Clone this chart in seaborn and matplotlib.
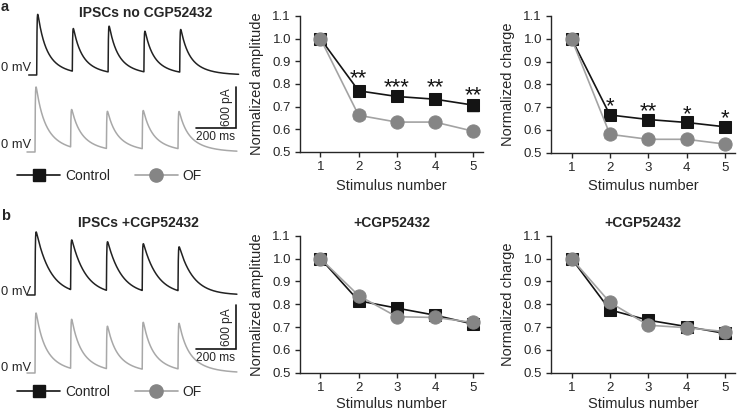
import numpy as np
import pandas as pd
import matplotlib
matplotlib.use("Agg")
import matplotlib.pyplot as plt
from matplotlib.lines import Line2D
import seaborn as sns

# ---------------- data ----------------
stimulus = [1, 2, 3, 4, 5]
conditions = ["Control", "OF"]

amp_a_ctrl = [1.0, 0.770, 0.745, 0.733, 0.707]
amp_a_ctrl_err = [0.0, 0.022, 0.014, 0.020, 0.024]
amp_a_of = [1.0, 0.662, 0.632, 0.632, 0.592]
amp_a_of_err = [0.0, 0.018, 0.014, 0.014, 0.013]

chg_a_ctrl = [1.0, 0.665, 0.645, 0.632, 0.613]
chg_a_ctrl_err = [0.0, 0.018, 0.012, 0.018, 0.014]
chg_a_of = [1.0, 0.580, 0.558, 0.558, 0.537]
chg_a_of_err = [0.0, 0.016, 0.014, 0.014, 0.014]

amp_b_ctrl = [1.0, 0.815, 0.783, 0.752, 0.713]
amp_b_ctrl_err = [0.0, 0.010, 0.012, 0.012, 0.012]
amp_b_of = [1.0, 0.838, 0.745, 0.742, 0.720]
amp_b_of_err = [0.0, 0.012, 0.012, 0.012, 0.012]

chg_b_ctrl = [1.0, 0.775, 0.730, 0.702, 0.672]
chg_b_ctrl_err = [0.0, 0.010, 0.012, 0.012, 0.012]
chg_b_of = [1.0, 0.808, 0.708, 0.697, 0.680]
chg_b_of_err = [0.0, 0.012, 0.012, 0.012, 0.012]

stars_amp_a = ["**", "***", "**", "**"]
stars_amp_a_y = [0.856, 0.816, 0.816, 0.780]
stars_chg_a = ["*", "**", "*", "*"]
stars_chg_a_y = [0.735, 0.713, 0.700, 0.680]
star_x = [2, 3, 4, 5]

yticks = [0.5, 0.6, 0.7, 0.8, 0.9, 1.0, 1.1]

# example IPSC trains: stimulus times (ms) and response amplitudes (pA)
stim_times_ms = [0, 178, 357, 536, 715]
ipsc_a_ctrl_pA = [886, 625, 670, 595, 625]
ipsc_a_of_pA = [949, 550, 545, 560, 545]
ipsc_b_ctrl_pA = [857, 680, 665, 640, 600]
ipsc_b_of_pA = [816, 670, 580, 640, 623]

# ---------------- style ----------------
sns.set_style("ticks")
plt.rcParams["font.family"] = ["Liberation Sans", "DejaVu Sans"]
plt.rcParams["axes.linewidth"] = 1.0

W, H = 745, 412
fig = plt.figure(figsize=(W / 100, H / 100), dpi=100)


def rect(x0, y0, x1, y1):
    return [x0 / W, 1 - y1 / H, (x1 - x0) / W, (y1 - y0) / H]


BLACK = "#141414"
OF_LINE = "#a3a3a3"
OF_MARK = "#858585"
TRACE_GRAY = "#a8a8a8"


def ipsc_trace(amps, rise, w_fast, tau_fast, tau_slow):
    t = np.arange(-40, 1010, 0.5)
    y = np.zeros_like(t)
    fine = np.arange(0, 50, 0.05)
    kmax = np.max((1 - np.exp(-fine / rise)) * (w_fast * np.exp(-fine / tau_fast) + (1 - w_fast) * np.exp(-fine / tau_slow)))
    for ts, a in zip(stim_times_ms, amps):
        tt = np.clip(t - ts, 0, None)
        k = (1 - np.exp(-tt / rise)) * (w_fast * np.exp(-tt / tau_fast) + (1 - w_fast) * np.exp(-tt / tau_slow))
        k[t < ts] = 0
        y += a * k / kmax
    return t, y


def trace_axes(y_top, y_bot, stim_px, base_px, pA_per_px, ms_per_px=5.0):
    ax = fig.add_axes(rect(0, y_top, 250, y_bot))
    ax.set_xlim((0 - stim_px) * ms_per_px, (250 - stim_px) * ms_per_px)
    ax.set_ylim((base_px - y_bot) * pA_per_px, (base_px - y_top) * pA_per_px)
    ax.axis("off")
    ax.patch.set_alpha(0)
    return ax


def draw_trace(ax, amps, color, params):
    t, y = ipsc_trace(amps, *params)
    sns.lineplot(x=t, y=y, ax=ax, color=color, lw=1.1, estimator=None, errorbar=None, sort=False)


def scale_bar(ax, corner_ms, corner_pA):
    ax.plot([corner_ms - 200, corner_ms, corner_ms], [corner_pA, corner_pA, corner_pA + 600],
            color=BLACK, lw=1.2, solid_joinstyle="miter")


params_fast = (1.5, 0.5, 30, 80)
params_of = (1.5, 0.45, 30, 85)
params_slow = (1.5, 1.0, 70, 70)

# panel a traces
ax_t = trace_axes(0, 100, 36.7, 75, 14.6)
draw_trace(ax_t, ipsc_a_ctrl_pA, "#222222", params_fast)
ax_t = trace_axes(78, 160, 35, 152, 14.6)
draw_trace(ax_t, ipsc_a_of_pA, TRACE_GRAY, params_of)
scale_bar(ax_t, (236 - 35) * 5, (152 - 128) * 14.6)

# panel b traces
ax_t = trace_axes(225, 300, 35, 295, 13.6)
draw_trace(ax_t, ipsc_b_ctrl_pA, "#222222", params_slow)
ax_t = trace_axes(300, 380, 35, 373, 13.6)
draw_trace(ax_t, ipsc_b_of_pA, TRACE_GRAY, params_of)
scale_bar(ax_t, (236 - 35) * 5, (373 - 349) * 13.6)


def ftext(px, py, s, **kw):
    fig.text(px / W, 1 - py / H, s, **kw)


ftext(1, 11, "a", fontsize=10.5, fontweight="bold", va="baseline")
ftext(1, 220, "b", fontsize=10.5, fontweight="bold", va="baseline")
ftext(146, 13, "IPSCs no CGP52432", fontsize=10, fontweight="bold", ha="center", va="center")
ftext(138, 223, "IPSCs +CGP52432", fontsize=10, fontweight="bold", ha="center", va="center")
for y in (68, 145, 292, 368):
    ftext(1, y, "0 mV", fontsize=9.3, ha="left", va="center")
for yb, yp in ((137, 107), (358, 327)):
    ftext(216, yb, "200 ms", fontsize=8.6, ha="center", va="center")
    ftext(227, yp, "600 pA", fontsize=8.6, ha="center", va="center", rotation=90)

# legends
handles = [Line2D([], [], color=BLACK, lw=1.2, marker="s", markersize=8.5, markeredgecolor=BLACK),
           Line2D([], [], color=OF_LINE, lw=1.2, marker="o", markersize=9.5,
                  markerfacecolor=OF_MARK, markeredgecolor=OF_MARK)]
for yl in (176, 392):
    fig.legend(handles, conditions, loc="center left", bbox_to_anchor=(17 / W, 1 - yl / H),
               ncol=2, frameon=False, handlelength=3.1, handletextpad=0.35, columnspacing=1.8,
               borderpad=0, borderaxespad=0, fontsize=10, numpoints=1)


def line_panel(box, ctrl, ctrl_err, of, of_err, ylabel, title=None, stars=None, stars_y=None, xpad=4):
    ax = fig.add_axes(rect(*box))
    df = pd.DataFrame({"Stimulus number": stimulus * 2,
                       "value": ctrl + of,
                       "err": ctrl_err + of_err,
                       "cond": ["Control"] * 5 + ["OF"] * 5})
    c = df[df.cond == "Control"]
    o = df[df.cond == "OF"]
    ax.errorbar(c["Stimulus number"], c["value"], yerr=c["err"], fmt="none", ecolor=BLACK,
                elinewidth=1.0, capsize=4, capthick=1.0, zorder=2)
    sns.lineplot(data=c, x="Stimulus number", y="value", ax=ax, color=BLACK, lw=1.2, marker="s",
                 markersize=8.5, markeredgecolor=BLACK, markerfacecolor=BLACK,
                 estimator=None, errorbar=None, zorder=3)
    ax.errorbar(o["Stimulus number"], o["value"], yerr=o["err"], fmt="none", ecolor="#b0b0b0",
                elinewidth=1.0, capsize=4, capthick=1.0, zorder=4)
    sns.lineplot(data=o, x="Stimulus number", y="value", ax=ax, color=OF_LINE, lw=1.2, marker="o",
                 markersize=9.5, markeredgecolor=OF_MARK, markerfacecolor=OF_MARK,
                 estimator=None, errorbar=None, zorder=5)
    ax.set_ylim(0.5, 1.1)
    ax.set_xlim(1 - 20.5 / 38.25, 5 + 10 / 38.25)
    ax.set_yticks(yticks)
    ax.set_yticklabels([f"{v:.1f}" for v in yticks])
    ax.set_xticks(stimulus)
    ax.tick_params(labelsize=9.5, length=3.5, width=1.0, direction="out", pad=3)
    ax.set_ylabel(ylabel, fontsize=10.5, labelpad=6)
    ax.set_xlabel("Stimulus number", fontsize=10.5, labelpad=xpad)
    sns.despine(ax=ax)
    ax.patch.set_alpha(0)
    if title:
        ax.set_title(title, fontsize=10, fontweight="bold", pad=6)
    if stars:
        for x, s, y in zip(star_x, stars, stars_y):
            ax.annotate(s, (x, y), xytext=(0, -9.3), textcoords="offset points",
                        ha="center", va="baseline", fontsize=16, color=BLACK)
    return ax


line_panel((300, 16, 483, 152), amp_a_ctrl, amp_a_ctrl_err, amp_a_of, amp_a_of_err,
           "Normalized amplitude", stars=stars_amp_a, stars_y=stars_amp_a_y)
line_panel((551, 16, 735, 152.5), chg_a_ctrl, chg_a_ctrl_err, chg_a_of, chg_a_of_err,
           "Normalized charge", stars=stars_chg_a, stars_y=stars_chg_a_y)
line_panel((300, 235.7, 483, 372.7), amp_b_ctrl, amp_b_ctrl_err, amp_b_of, amp_b_of_err,
           "Normalized amplitude", title="+CGP52432", xpad=2.5)
line_panel((551, 235.7, 735, 372.7), chg_b_ctrl, chg_b_ctrl_err, chg_b_of, chg_b_of_err,
           "Normalized charge", title="+CGP52432", xpad=2.5)

fig.savefig("out.png", dpi=100)
